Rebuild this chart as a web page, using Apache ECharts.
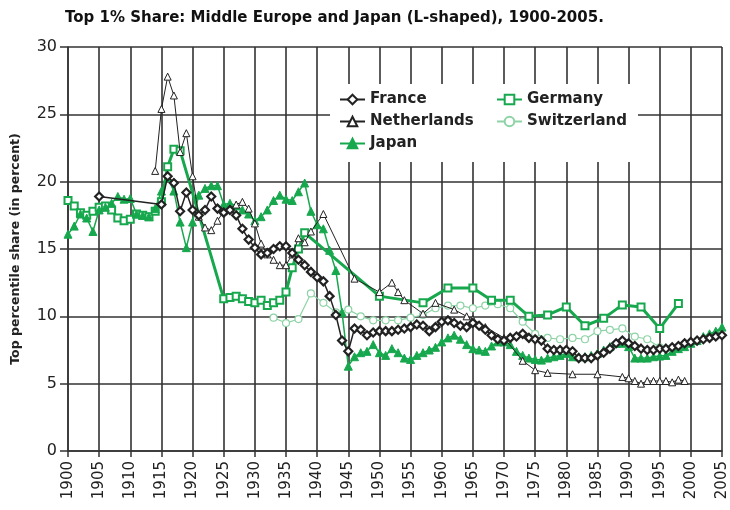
<!DOCTYPE html>
<html>
<head>
<meta charset="utf-8">
<script src="https://cdn.jsdelivr.net/npm/echarts@6/dist/echarts.min.js"></script>
<style>html,body{margin:0;padding:0;background:#fff}#c{width:730px;height:510px}</style>
</head>
<body>
<div id="c"></div>
<script>
function yrs(a, b) { var r = []; for (var y = a; y <= b; y++) r.push(y); return r; }

var titleText = 'Top 1% Share: Middle Europe and Japan (L-shaped), 1900-2005.';
var yAxisName = 'Top percentile share (in percent)';
var seriesNames = ['France', 'Germany', 'Netherlands', 'Switzerland', 'Japan'];

var franceYears = [1905].concat(yrs(1915, 2005));
var franceValues = [18.9,
  18.3, 20.4, 19.9, 17.8, 19.2, 17.9, 17.5, 17.9, 18.9, 18.0,
  17.7, 17.9, 17.5, 16.5, 15.7, 15.1, 14.6, 14.7, 15.0, 15.2,
  15.2, 14.7, 14.2, 13.8, 13.3, 12.9, 12.6, 11.5, 10.1, 8.2,
  7.4, 9.1, 9.0, 8.6, 8.8, 8.9, 8.9, 8.9, 9.0, 9.1,
  9.2, 9.4, 9.3, 8.9, 9.2, 9.6, 9.7, 9.5, 9.3, 9.2,
  9.5, 9.3, 9.0, 8.6, 8.3, 8.2, 8.4, 8.5, 8.7, 8.4,
  8.3, 8.2, 7.6, 7.5, 7.5, 7.5, 7.4, 6.9, 6.9, 6.9,
  7.1, 7.3, 7.6, 8.0, 8.2, 8.0, 7.8, 7.6, 7.5, 7.5,
  7.6, 7.6, 7.7, 7.8, 8.0, 8.1, 8.2, 8.3, 8.4, 8.5,
  8.6];

var germanyYears = yrs(1900, 1918).concat(yrs(1925, 1938)).concat([1950, 1957, 1961, 1965, 1968, 1971, 1974, 1977, 1980, 1983, 1986, 1989, 1992, 1995, 1998]);
var germanyValues = [
  18.6, 18.2, 17.7, 17.5, 17.8, 18.1, 18.2, 17.9, 17.3, 17.1,
  17.2, 17.6, 17.5, 17.4, 17.8, 18.5, 21.1, 22.4, 22.3,
  11.3, 11.4, 11.5, 11.3, 11.1, 11.0, 11.2, 10.8, 11.0, 11.2, 11.8, 13.6, 15.0, 16.2,
  11.5, 11.0, 12.1, 12.1, 11.2, 11.2, 10.0, 10.1, 10.7, 9.3, 9.85, 10.85, 10.7, 9.1, 10.95];

var netherlandsYears = yrs(1914, 1939).concat([1941, 1946, 1950, 1952, 1953, 1954, 1957, 1959, 1962, 1964, 1965, 1967, 1970, 1973, 1975, 1977, 1981, 1985]).concat(yrs(1989, 1999));
var netherlandsValues = [
  20.8, 25.4, 27.8, 26.4, 22.2, 23.6, 20.4, 17.4, 16.6, 16.4,
  17.1, 17.8, 18.0, 18.3, 18.5, 18.0, 16.9, 15.4, 14.6, 14.2,
  13.8, 13.8, 14.6, 15.8, 15.5, 16.3,
  17.6, 12.8, 11.8, 12.5, 11.8, 11.2, 10.2, 11.0, 10.5, 10.0, 9.8, 9.2, 8.4, 6.7, 6.0, 5.8, 5.7, 5.7,
  5.5, 5.4, 5.2, 5.0, 5.2, 5.2, 5.2, 5.2, 5.1, 5.3, 5.2];

var switzerlandYears = [1933, 1935, 1937, 1939, 1941, 1943, 1945, 1947, 1949, 1951, 1953, 1955, 1957, 1959, 1961, 1963, 1965, 1967, 1969, 1971, 1973, 1975, 1977, 1979, 1981, 1983, 1985, 1987, 1989, 1991, 1993, 1995];
var switzerlandValues = [9.9, 9.5, 9.8, 11.7, 11.0, 10.3, 10.5, 10.0, 9.7, 9.7, 9.7, 9.9, 10.1, 10.6, 10.8, 10.8, 10.6, 10.8, 10.9, 10.6, 9.6, 8.7, 8.4, 8.3, 8.4, 8.3, 8.9, 9.0, 9.1, 8.5, 8.3, 7.7];

var japanYears = yrs(1900, 2005);
var japanValues = [
  16.1, 16.7, 17.6, 17.3, 16.3, 17.9, 18.1, 18.4, 18.9, 18.7,
  18.75, 17.6, 17.5, 17.4, 18.0, 19.3, 20.3, 19.3, 17.0, 15.1,
  17.0, 19.0, 19.5, 19.7, 19.7, 18.3, 18.4, 18.2, 17.9, 17.6,
  17.1, 17.4, 17.9, 18.6, 19.0, 18.7, 18.6, 19.25, 19.9, 17.8,
  16.8, 16.5, 14.9, 13.4, 10.3, 6.3, 7.0, 7.3, 7.4, 7.9,
  7.3, 7.1, 7.6, 7.3, 6.9, 6.8, 7.1, 7.3, 7.5, 7.7,
  8.1, 8.4, 8.6, 8.3, 7.9, 7.6, 7.5, 7.4, 7.8, 8.1,
  8.1, 7.9, 7.4, 7.1, 6.9, 6.8, 6.75, 6.9, 7.0, 7.1,
  7.25, 7.0, 7.0, 7.0, 7.1, 7.25, 7.5, 7.75, 8.0, 8.0,
  7.75, 6.9, 6.9, 6.9, 7.0, 7.05, 7.1, 7.4, 7.6, 7.75,
  8.0, 8.2, 8.5, 8.7, 8.9, 9.2];

function pairs(ys, vs) { return ys.map(function (y, i) { return [y, vs[i]]; }); }

var FONT = 'DejaVu Sans';
var GREEN = '#17a84e';
var LIGHT = '#8ed3a6';
var DARK = '#222222';

var chart = echarts.init(document.getElementById('c'), null, { renderer: 'canvas' });
chart.setOption({
  animation: false,
  backgroundColor: '#ffffff',
  title: {
    text: titleText, left: 60, top: 6,
    textStyle: { fontFamily: FONT, fontSize: 15, fontWeight: 'bold', color: '#111' }
  },
  grid: { left: 68, right: 8, top: 47, bottom: 59, containLabel: false },
  graphic: [{
    type: 'rect', z: 3, shape: { x: 330, y: 84, width: 308, height: 78 },
    style: { fill: '#ffffff' }
  }],
  legend: [
    {
      data: ['France', 'Netherlands', 'Japan'], orient: 'vertical', left: 334, top: 87,
      itemGap: 7, itemWidth: 25, itemHeight: 12, z: 5,
      textStyle: { fontFamily: FONT, fontSize: 15, fontWeight: 'bold', color: '#222' }
    },
    {
      data: ['Germany', 'Switzerland'], orient: 'vertical', left: 491, top: 87,
      itemGap: 7, itemWidth: 25, itemHeight: 12, z: 5,
      textStyle: { fontFamily: FONT, fontSize: 15, fontWeight: 'bold', color: '#222' }
    }
  ],
  xAxis: {
    type: 'value', min: 1900, max: 2005, interval: 5,
    axisLine: { lineStyle: { color: '#333', width: 1.5 } },
    axisTick: { show: true, length: 6, lineStyle: { color: '#333', width: 1.5 } },
    splitLine: { show: true, lineStyle: { color: '#333333', width: 1.6 } },
    axisLabel: { rotate: 90, margin: 10, fontFamily: FONT, fontSize: 15, color: '#222', formatter: function (v) { return String(v); } }
  },
  yAxis: {
    type: 'value', min: 0, max: 30, interval: 5,
    name: yAxisName, nameLocation: 'middle', nameGap: 46,
    nameTextStyle: { fontFamily: FONT, fontSize: 12.5, fontWeight: 'bold', color: '#222' },
    axisLine: { show: true, lineStyle: { color: '#333', width: 1.5 } },
    axisTick: { show: true, length: 8, lineStyle: { color: '#333', width: 1.5 } },
    splitLine: { show: true, lineStyle: { color: '#333333', width: 1.6 } },
    axisLabel: { margin: 11, fontFamily: FONT, fontSize: 16, color: '#222' }
  },
  series: [
    {
      name: 'France', type: 'line', data: pairs(franceYears, franceValues), z: 6,
      symbol: 'diamond', symbolSize: 8,
      lineStyle: { color: DARK, width: 1.5 },
      itemStyle: { color: '#ffffff', borderColor: DARK, borderWidth: 2.2 }
    },
    {
      name: 'Germany', type: 'line', data: pairs(germanyYears, germanyValues), z: 4,
      symbol: 'rect', symbolSize: 7,
      lineStyle: { color: GREEN, width: 3 },
      itemStyle: { color: '#ffffff', borderColor: GREEN, borderWidth: 2 }
    },
    {
      name: 'Netherlands', type: 'line', data: pairs(netherlandsYears, netherlandsValues), z: 5,
      symbol: 'triangle', symbolSize: 7,
      lineStyle: { color: DARK, width: 1 },
      itemStyle: { color: '#ffffff', borderColor: DARK, borderWidth: 1 }
    },
    {
      name: 'Switzerland', type: 'line', data: pairs(switzerlandYears, switzerlandValues), z: 3,
      symbol: 'circle', symbolSize: 7,
      lineStyle: { color: LIGHT, width: 1.2 },
      itemStyle: { color: '#ffffff', borderColor: LIGHT, borderWidth: 1.2 }
    },
    {
      name: 'Japan', type: 'line', data: pairs(japanYears, japanValues), z: 4,
      symbol: 'triangle', symbolSize: 8,
      lineStyle: { color: GREEN, width: 1.5 },
      itemStyle: { color: GREEN, borderColor: GREEN, borderWidth: 1 }
    }
  ]
});
</script>
</body>
</html>
